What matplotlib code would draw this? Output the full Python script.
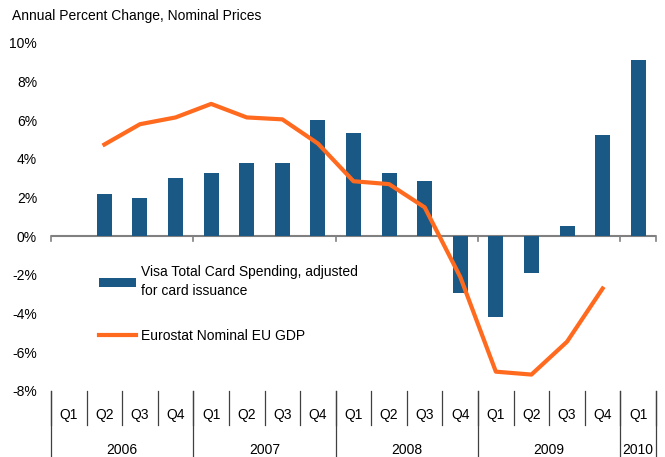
import matplotlib.pyplot as plt
import numpy as np

plt.rcParams['font.family'] = ['Liberation Sans', 'DejaVu Sans']

quarters = ['Q1', 'Q2', 'Q3', 'Q4'] * 4 + ['Q1']
years = ['2006', '2007', '2008', '2009', '2010']
year_len = [4, 4, 4, 4, 1]

# Visa spending (bars), first quarter has no data
visa = [np.nan, 2.2, 2.0, 3.0, 3.3, 3.8, 3.8, 6.0, 5.35, 3.3, 2.85, -2.95,
        -4.15, -1.9, 0.55, 5.25, 9.1]
# Eurostat GDP (line)
gdp = [np.nan, 4.75, 5.8, 6.15, 6.85, 6.15, 6.05, 4.8, 2.85, 2.7, 1.5, -2.1,
       -7.0, -7.15, -5.45, -2.7, np.nan]

bar_col = '#1A5886'
line_col = '#FF6A1F'

fig = plt.figure(figsize=(6.65, 4.57), dpi=100)
ax = fig.add_axes([51/665, 66/457, 605/665, 348/457])

x = np.arange(len(quarters))
bars = ax.bar(x, visa, width=0.42, color=bar_col, label='Visa Total Card Spending, adjusted\nfor card issuance', zorder=2)
line, = ax.plot(x, gdp, color=line_col, lw=3, label='Eurostat Nominal EU GDP', zorder=3)

ax.set_xlim(-0.5, len(quarters) - 0.5)
ax.set_ylim(-8, 10)
ax.set_yticks(np.arange(-8, 11, 2))
ax.set_yticklabels([f'{v}%' for v in range(-8, 11, 2)], fontsize=10)
ax.tick_params(axis='y', length=0, pad=10)
ax.set_xticks([])
for s in ax.spines.values():
    s.set_visible(False)

# zero line with small ticks at year boundaries
ax.axhline(0, color='#808080', lw=1.5, zorder=1)
bounds = np.concatenate([[0], np.cumsum(year_len)]) - 0.5
for b in bounds:
    ax.plot([b, b], [0, -0.22], color='#808080', lw=1.2, clip_on=False, zorder=1)

# category axis below the plot
tr = ax.get_xaxis_transform()
for i in range(len(quarters) + 1):
    ax.plot([i - 0.5, i - 0.5], [0, -0.098], transform=tr, color='#404040', lw=0.9, clip_on=False)
for b in bounds:
    ax.plot([b, b], [0, -0.19], transform=tr, color='#404040', lw=0.9, clip_on=False)
for i, q in enumerate(quarters):
    ax.text(i, -0.068, q, transform=tr, ha='center', va='center', fontsize=10)
for k, y in enumerate(years):
    ax.text((bounds[k] + bounds[k + 1]) / 2, -0.17, y, transform=tr, ha='center', va='center', fontsize=10)

fig.text(12/665, 1 - 16/457, 'Annual Percent Change, Nominal Prices', fontsize=10, ha='left', va='center')

leg = ax.legend([bars, line], [bars.get_label(), line.get_label()],
                loc='upper left', bbox_to_anchor=(0.07, 0.378), frameon=False, fontsize=10,
                handlelength=2.7, handleheight=0.6, labelspacing=2.2, handletextpad=0.3,
                borderaxespad=0)
for t in leg.get_texts():
    t.set_linespacing(1.45)

fig.savefig('out.png', dpi=100)
